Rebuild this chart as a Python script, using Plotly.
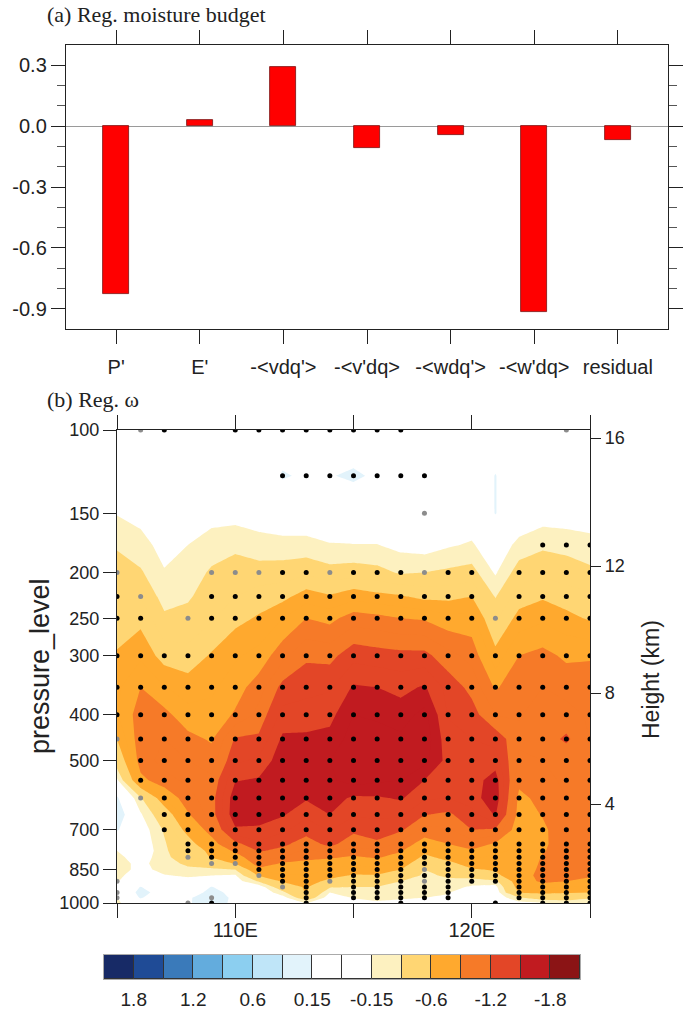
import plotly.graph_objects as go

W, H = 685, 1010

# ---------- panel (a) data ----------
budget_terms = ["P'", "E'", "-<vdq'>", "-<v'dq>", "-<wdq'>", "-<w'dq>", "residual"]
budget_values = [-0.825, 0.03, 0.29, -0.11, -0.045, -0.915, -0.07]
budget_ytick_vals = [0.3, 0.0, -0.3, -0.6, -0.9]
budget_ytick_text = ["0.3", "0.0", "-0.3", "-0.6", "-0.9"]

# ---------- panel (b) data ----------
lons = [105, 106, 107, 108, 109, 110, 111, 112, 113, 114, 115,
        116, 117, 118, 119, 120, 121, 122, 123, 124, 125]
levels = [100, 125, 150, 175, 200, 225, 250, 300, 350, 400, 450, 500, 550, 600,
          650, 700, 750, 775, 800, 825, 850, 875, 900, 925, 950, 975, 1000]

w105 = [0, 0, -0.14, -0.28, -0.38, -0.44, -0.5, -0.62, -0.72, -0.74, -0.6, -0.42, -0.12, 0.18, 0.29, 0.17, -0.1, -0.15, -0.2, -0.22, -0.22, -0.18, -0.16, -0.1, -0.1, -0.16, -0.18]
w106 = [0, 0, -0.1, -0.2, -0.32, -0.44, -0.55, -0.72, -0.9, -0.98, -1.0, -0.98, -0.85, -0.28, -0.13, -0.05, -0.02, 0, -0.05, -0.1, -0.1, -0.08, -0.03, 0.16, 0.22, 0.17, 0]
w107 = [0, 0, -0.03, -0.1, -0.16, -0.24, -0.33, -0.53, -0.76, -0.95, -1.05, -1.1, -1.0, -0.75, -0.45, -0.32, -0.28, -0.27, -0.26, -0.24, -0.2, -0.14, -0.1, -0.08, 0.05, -0.03, 0]
w108 = [0, 0, -0.05, -0.15, -0.23, -0.28, -0.35, -0.5, -0.68, -0.8, -0.95, -1.05, -1.08, -1.0, -0.88, -0.68, -0.5, -0.45, -0.4, -0.33, -0.27, -0.17, -0.1, -0.05, 0.02, 0.12, 0.13]
w109 = [0, 0, -0.08, -0.23, -0.32, -0.38, -0.43, -0.62, -0.72, -0.8, -0.88, -0.98, -1.08, -1.13, -1.12, -1.0, -0.8, -0.66, -0.62, -0.4, -0.27, -0.15, -0.08, 0.16, 0.22, 0.28, 0.25]
w110 = [0, 0, -0.08, -0.27, -0.36, -0.45, -0.55, -0.73, -0.83, -0.92, -1.22, -1.32, -1.49, -1.6, -1.62, -1.47, -1.15, -0.95, -0.78, -0.62, -0.3, -0.13, -0.07, 0.0, 0.08, 0.1, 0.1]
w111 = [0, 0, -0.05, -0.22, -0.36, -0.52, -0.62, -0.8, -0.98, -1.1, -1.23, -1.38, -1.52, -1.62, -1.58, -1.47, -1.32, -1.22, -1.1, -1.0, -0.85, -0.62, -0.32, -0.05, 0.0, 0, 0]
w112 = [0, 0.17, -0.03, -0.2, -0.38, -0.55, -0.75, -1.0, -1.25, -1.4, -1.53, -1.6, -1.65, -1.62, -1.52, -1.38, -1.24, -1.15, -1.05, -0.88, -0.8, -0.72, -0.62, -0.45, -0.25, -0.08, 0]
w113 = [0, 0.12, -0.03, -0.2, -0.42, -0.68, -0.9, -1.17, -1.3, -1.42, -1.53, -1.62, -1.6, -1.52, -1.38, -1.27, -1.12, -1.02, -0.95, -0.85, -0.8, -0.75, -0.68, -0.63, -0.62, -0.45, -0.16]
w114 = [0, 0.14, -0.02, -0.16, -0.36, -0.62, -0.85, -1.15, -1.33, -1.45, -1.55, -1.65, -1.62, -1.58, -1.5, -1.36, -1.25, -1.1, -0.92, -0.82, -0.74, -0.66, -0.55, -0.32, -0.15, -0.05, 0]
w115 = [0, 0.18, 0.0, -0.155, -0.38, -0.7, -0.98, -1.3, -1.52, -1.65, -1.72, -1.76, -1.72, -1.47, -1.37, -1.24, -1.1, -1.0, -0.88, -0.78, -0.68, -0.58, -0.42, -0.3, -0.23, -0.16, -0.08]
w116 = [0, 0.12, 0, -0.155, -0.35, -0.65, -0.95, -1.27, -1.5, -1.63, -1.7, -1.74, -1.68, -1.48, -1.38, -1.28, -1.17, -1.03, -0.92, -0.8, -0.72, -0.58, -0.43, -0.3, -0.25, -0.2, -0.12]
w117 = [0, 0, 0, -0.1, -0.28, -0.62, -0.9, -1.25, -1.45, -1.58, -1.68, -1.72, -1.65, -1.52, -1.38, -1.23, -1.0, -0.92, -0.82, -0.7, -0.6, -0.48, -0.3, -0.25, -0.2, -0.17, -0.1]
w118 = [0, 0, 0, -0.07, -0.3, -0.55, -0.88, -1.25, -1.52, -1.7, -1.75, -1.7, -1.5, -1.37, -1.21, -1.0, -0.82, -0.65, -0.55, -0.45, -0.3, -0.26, -0.22, -0.2, -0.18, -0.15, -0.1]
w119 = [0, 0, -0.02, -0.13, -0.33, -0.55, -0.8, -1.1, -1.3, -1.34, -1.4, -1.44, -1.42, -1.35, -1.17, -1.03, -0.9, -0.78, -0.67, -0.55, -0.43, -0.33, -0.26, -0.2, -0.16, -0.13, -0.05]
w120 = [0, 0, -0.03, -0.17, -0.36, -0.6, -0.8, -1.0, -1.15, -1.27, -1.35, -1.38, -1.42, -1.42, -1.3, -1.2, -0.98, -0.88, -0.78, -0.68, -0.58, -0.38, -0.22, -0.13, -0.05, 0, 0]
w121 = [0, 0.157, 0.157, -0.03, -0.13, -0.29, -0.42, -0.66, -0.88, -1.05, -1.3, -1.42, -1.58, -1.62, -1.52, -1.18, -0.88, -0.78, -0.72, -0.66, -0.62, -0.55, -0.25, -0.1, -0.05, -0.03, 0]
w122 = [0, 0, 0, -0.2, -0.38, -0.52, -0.66, -0.9, -1.0, -1.04, -1.08, -1.02, -0.95, -0.85, -0.82, -0.78, -0.75, -0.72, -0.7, -0.68, -0.7, -0.75, -0.75, -0.7, -0.62, -0.28, -0.1]
w123 = [0, 0, -0.06, -0.27, -0.42, -0.58, -0.72, -0.95, -1.05, -1.1, -1.12, -1.05, -1.0, -0.96, -0.91, -0.87, -0.86, -0.88, -0.92, -0.95, -0.98, -1.0, -0.95, -0.78, -0.65, -0.4, -0.14]
w124 = [0, 0, -0.05, -0.25, -0.38, -0.52, -0.65, -0.87, -1.0, -1.1, -1.23, -1.08, -1.08, -1.05, -1.03, -1.0, -1.02, -1.02, -1.03, -1.03, -1.02, -0.98, -0.9, -0.75, -0.62, -0.4, -0.2]
w125 = [0, 0, -0.03, -0.22, -0.33, -0.48, -0.58, -0.88, -1.0, -1.03, -1.05, -1.07, -1.07, -1.05, -1.03, -1.02, -1.0, -1.0, -1.0, -0.98, -0.95, -0.92, -0.85, -0.72, -0.6, -0.32, -0.16]
omega_columns = [w105, w106, w107, w108, w109, w110, w111, w112, w113, w114, w115,
                 w116, w117, w118, w119, w120, w121, w122, w123, w124, w125]
omega = [[col[j] for col in omega_columns] for j in range(len(levels))]

# significance stippling: column longitudes at each pressure level
sig_black = {
    100: [107, 110, 111, 112, 113, 114, 115, 116, 117],
    125: [112, 113, 114, 115, 116, 117, 118],
    175: [123, 124, 125],
    200: [112, 113, 115, 116, 117, 119, 120, 122, 123, 124, 125],
    225: [105, 109, 110, 111, 112, 113, 114, 115, 116, 117, 118, 119, 120, 122, 123, 124, 125],
    250: [105, 106, 109, 110, 111, 112, 113, 114, 115, 116, 117, 118, 119, 120, 122, 123, 124, 125],
    300: [105, 106, 107, 108, 109, 110, 111, 112, 113, 114, 115, 116, 117, 118, 119, 120, 121, 122, 123, 124, 125],
    350: [105, 106, 107, 108, 109, 110, 111, 112, 113, 114, 115, 116, 117, 118, 119, 120, 121, 122, 123, 124, 125],
    400: [105, 106, 107, 108, 109, 110, 111, 112, 113, 114, 115, 116, 117, 118, 119, 120, 121, 122, 123, 124, 125],
    450: [106, 107, 108, 109, 110, 111, 112, 113, 114, 115, 116, 117, 118, 119, 120, 121, 122, 123, 124, 125],
    500: [106, 107, 108, 109, 110, 111, 112, 113, 114, 115, 116, 117, 118, 119, 120, 121, 122, 123, 124, 125],
    550: [106, 107, 108, 109, 110, 111, 112, 113, 114, 115, 116, 117, 118, 119, 120, 121, 122, 123, 124, 125],
    600: [107, 108, 109, 110, 111, 112, 113, 114, 115, 116, 117, 118, 119, 120, 121, 122, 123, 124, 125],
    650: [107, 108, 109, 110, 111, 112, 113, 114, 115, 116, 117, 118, 119, 120, 121, 122, 123, 124, 125],
    700: [107, 108, 109, 110, 111, 112, 113, 114, 115, 116, 117, 118, 119, 120, 121, 122, 123, 124, 125],
    750: [108, 109, 110, 111, 112, 113, 114, 115, 116, 117, 118, 119, 120, 121, 122, 123, 124, 125],
    775: [108, 109, 110, 111, 112, 113, 114, 115, 116, 117, 118, 119, 120, 121, 122, 123, 124, 125],
    800: [109, 110, 111, 112, 113, 114, 115, 116, 117, 118, 119, 120, 121, 122, 123, 124, 125],
    825: [111, 112, 113, 114, 115, 116, 117, 118, 119, 120, 121, 122, 123, 124, 125],
    850: [111, 112, 113, 114, 115, 116, 117, 119, 120, 121, 122, 123, 124, 125],
    875: [112, 113, 114, 115, 116, 117, 118, 119, 120, 121, 122, 123, 124, 125],
    900: [112, 113, 115, 116, 117, 119, 120, 121, 122, 123, 124, 125],
    925: [113, 115, 116, 117, 118, 119, 122, 123, 124, 125],
    950: [113, 115, 116, 117, 118, 119, 122, 123, 124, 125],
    975: [113, 115, 116, 117, 118, 119, 122, 123, 124, 125],
    1000: [109, 113, 117, 121, 123, 124, 125],
}
sig_gray = {
    100: [106, 124],
    150: [118],
    200: [105, 109, 110, 111, 114, 118],
    225: [106],
    250: [108, 121],
    450: [105],
    600: [106],
    800: [108],
    825: [109, 110],
    850: [118],
    875: [111],
    900: [114, 118, 105],
    925: [112],
    950: [105],
    975: [109, 105],
    1000: [108],
}

height_km_vals = [4, 8, 12, 16]
height_km_pressure = [618, 360, 194, 104]
pressure_ticks = [100, 150, 200, 250, 300, 400, 500, 700, 850, 1000]
lon_ticks = [105, 110, 115, 120, 125]
lon_labels = ["", "110E", "", "120E", ""]

# ---------- colour bar ----------
band_colors = ["#172a66", "#1f4b96", "#3a7aba", "#63acdd", "#8ccff0", "#bfe5f8", "#e2f3fb", "#ffffff",
               "#ffffff", "#fdf1c0", "#ffd673", "#ffa92e", "#f67a28", "#e34627", "#c11b20", "#8b1415"]
band_edges = [1.8, 1.5, 1.2, 0.9, 0.6, 0.3, 0.15, 0.0, -0.15, -0.3, -0.6, -0.9, -1.2, -1.5, -1.8]
cbar_labels = ["1.8", "1.2", "0.6", "0.15", "-0.15", "-0.6", "-1.2", "-1.8"]
cbar_label_positions = [1, 3, 5, 7, 9, 11, 13, 15]

# stepped colour scale on the contour value range
c_start, c_end, c_size = -2.25, 2.25, 0.15
n_lev = int(round((c_end - c_start) / c_size)) + 1
dom_lo = c_start - c_size / 2
dom_hi = dom_lo + n_lev * c_size
def pos(v):
    return max(0.0, min(1.0, (v - dom_lo) / (dom_hi - dom_lo)))
asc_edges = band_edges[::-1]
asc_colors = band_colors[::-1]
scale = [[0.0, asc_colors[0]]]
for e, c0, c1 in zip(asc_edges, asc_colors[:-1], asc_colors[1:]):
    scale.append([pos(e), c0])
    scale.append([pos(e), c1])
scale.append([1.0, asc_colors[-1]])

def px(x):
    return x / W
def py(y):
    return 1 - y / H

SANS = "Liberation Sans"
SERIF = "Liberation Serif"
INK = "#222222"

fig = go.Figure()
fig.add_trace(go.Bar(x=list(range(7)), y=budget_values, width=0.31,
                     marker=dict(color="#ff0000", line=dict(color="#7a1010", width=0.8)),
                     xaxis="x", yaxis="y", showlegend=False))
fig.add_trace(go.Contour(x=lons, y=levels, z=omega, xaxis="x2", yaxis="y2",
                         contours=dict(coloring="fill", start=c_start, end=c_end, size=c_size),
                         colorscale=scale, line=dict(width=0), showscale=False,
                         line_smoothing=0))

bx, by = [], []
for p, cols in sig_black.items():
    bx += cols
    by += [p] * len(cols)
gx, gy = [], []
for p, cols in sig_gray.items():
    gx += cols
    gy += [p] * len(cols)
fig.add_trace(go.Scatter(x=gx, y=gy, mode="markers", xaxis="x2", yaxis="y2", showlegend=False,
                         marker=dict(color="#8c8c8c", size=5)))
fig.add_trace(go.Scatter(x=bx, y=by, mode="markers", xaxis="x2", yaxis="y2", showlegend=False,
                         marker=dict(color="#000000", size=5)))
# right-hand height axis
fig.add_trace(go.Scatter(x=[lons[0]] * 4, y=height_km_pressure, mode="lines", line=dict(width=0),
                         xaxis="x2", yaxis="y3", showlegend=False, hoverinfo="skip"))
# colour bar
fig.add_trace(go.Bar(x=[i + 0.5 for i in range(16)], y=[1] * 16, width=1, xaxis="x3", yaxis="y4",
                     marker=dict(color=band_colors, line=dict(color="#333333", width=1)),
                     showlegend=False, hoverinfo="skip"))

tick = dict(ticks="outside", ticklen=14, tickwidth=1.2, tickcolor=INK, automargin=False,
            showline=True, linecolor=INK, linewidth=1.4, mirror="allticks", showgrid=False)

fig.update_layout(
    width=W, height=H, margin=dict(l=0, r=0, t=0, b=0, pad=0), autosize=False,
    paper_bgcolor="white", plot_bgcolor="white", showlegend=False, bargap=0,
    font=dict(family=SANS, color=INK),
    xaxis=dict(domain=[px(66), px(668)], range=[-0.6, 6.6], anchor="y",
               tickvals=list(range(7)), ticktext=budget_terms,
               tickfont=dict(size=20), ticklabelstandoff=6, zeroline=False, **tick),
    yaxis=dict(domain=[py(329), py(45)], range=[-1.0, 0.4], anchor="x",
               tickvals=budget_ytick_vals, ticktext=budget_ytick_text, tickfont=dict(size=20),
               ticklabelstandoff=0,
               zeroline=True, zerolinecolor="#9a9a9a", zerolinewidth=1.2,
               minor=dict(tickvals=[0.2, 0.1, -0.1, -0.2, -0.4, -0.5, -0.7, -0.8],
                          ticks="outside", ticklen=8, tickwidth=1, tickcolor="#555555"),
               **tick),
    xaxis2=dict(domain=[px(117), px(590)], range=[105, 125], anchor="y2",
                tickvals=lon_ticks, ticktext=lon_labels, tickfont=dict(size=20),
                ticklabelstandoff=-5, zeroline=False, **tick),
    yaxis2=dict(domain=[py(903), py(430)], type="log", range=[3, 2], anchor="x2", automargin=False,
                tickvals=pressure_ticks, ticktext=[str(p) for p in pressure_ticks],
                tickfont=dict(size=18), ticks="outside", ticklen=13, tickwidth=1.2, tickcolor=INK,
                showline=True, linecolor=INK, linewidth=1.4, showgrid=False, zeroline=False),
    yaxis3=dict(domain=[py(903), py(430)], type="log", range=[3, 2], anchor="x2", overlaying="y2",
                side="right", tickvals=height_km_pressure, ticktext=[str(v) for v in height_km_vals],
                tickfont=dict(size=18), ticks="outside", ticklen=10, tickwidth=1.2, tickcolor=INK,
                automargin=False,
                showline=True, linecolor=INK, linewidth=1.4, showgrid=False, zeroline=False),
    xaxis3=dict(domain=[px(104), px(580)], range=[0, 16], anchor="y4", automargin=False,
                tickvals=cbar_label_positions, ticktext=cbar_labels, tickfont=dict(size=19),
                ticks="", showline=True, linecolor="#aaaaaa", linewidth=1, mirror=True,
                showgrid=False, zeroline=False, ticklabelstandoff=3),
    yaxis4=dict(domain=[py(979), py(955)], range=[0, 1], anchor="x3", showticklabels=False,
                ticks="", showline=True, linecolor="#aaaaaa", linewidth=1, mirror=True,
                automargin=False, showgrid=False, zeroline=False),
    annotations=[
        dict(text="(a) Reg. moisture budget", x=px(45), y=py(14), xref="paper", yref="paper",
             xanchor="left", yanchor="middle", showarrow=False, font=dict(family=SERIF, size=22, color=INK)),
        dict(text="(b) Reg. ω", x=px(45), y=py(399), xref="paper", yref="paper",
             xanchor="left", yanchor="middle", showarrow=False, font=dict(family=SERIF, size=22, color=INK)),
        dict(text="pressure_level", x=px(40), y=py(666), xref="paper", yref="paper", textangle=-90,
             xanchor="center", yanchor="middle", showarrow=False, font=dict(size=27, color=INK)),
        dict(text="Height (km)", x=px(651), y=py(680), xref="paper", yref="paper", textangle=-90,
             xanchor="center", yanchor="middle", showarrow=False, font=dict(size=23, color=INK)),
    ],
)

fig.write_html("out.html", config=dict(displayModeBar=False),
               post_script="document.body.style.margin='0';document.documentElement.style.overflow='hidden';")
